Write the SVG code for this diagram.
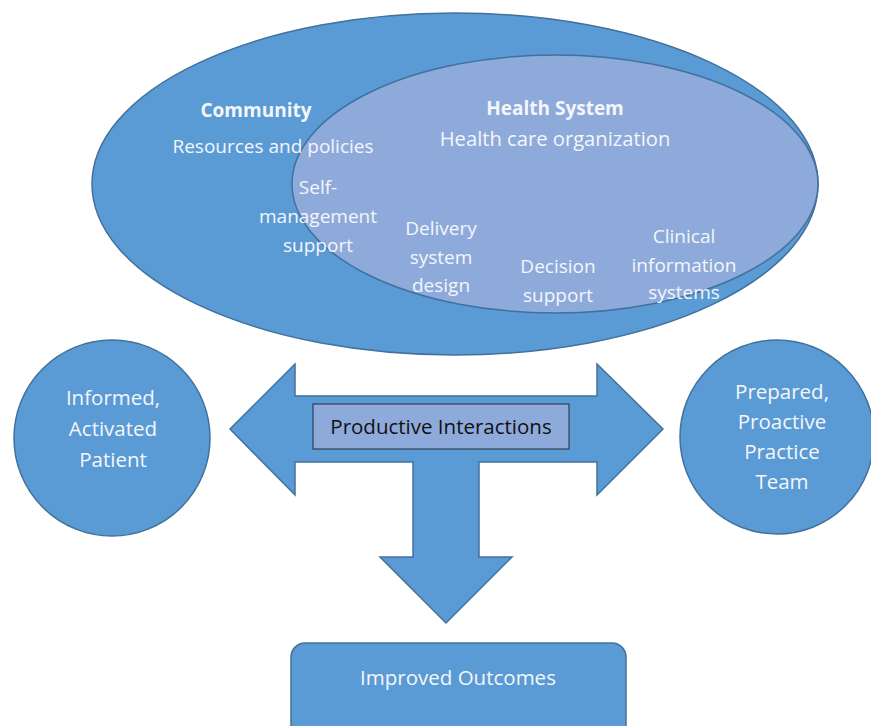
<svg xmlns="http://www.w3.org/2000/svg" width="871" height="726" viewBox="0 0 871 726">
  <style>
    .shape { fill: #5b9bd5; stroke: #41719c; stroke-width: 1.5; }
    .inner { fill: #8eaadb; stroke: #41719c; stroke-width: 1.5; }
    .lbl { font-family: "Open Sans", "Liberation Sans", Arial, sans-serif; fill: #f4f6fa; text-anchor: middle; font-size: 19px; }
    .big { font-size: 20.5px; }
    .org { font-size: 20.2px; }
    .bold { font-weight: bold; }
    .dark { fill: #111111; }
  </style>

  <!-- Community / Health System ellipses -->
  <g id="community">
    <ellipse class="shape" cx="455" cy="184" rx="363" ry="171"/>
  </g>
  <g id="health-system">
    <ellipse class="inner" cx="555" cy="184" rx="263" ry="129"/>
  </g>

  <g id="community-labels">
    <text class="lbl bold" x="256" y="117">Community</text>
    <text class="lbl" x="273" y="153">Resources and policies</text>
  </g>
  <g id="health-system-labels">
    <text class="lbl bold" x="555" y="115">Health System</text>
    <text class="lbl org" x="555" y="146">Health care organization</text>
  </g>
  <g id="self-management">
    <text class="lbl" x="318" y="194">Self-</text>
    <text class="lbl" x="318" y="223">management</text>
    <text class="lbl" x="318" y="252">support</text>
  </g>
  <g id="delivery-system-design">
    <text class="lbl" x="441" y="235">Delivery</text>
    <text class="lbl" x="441" y="264">system</text>
    <text class="lbl" x="441" y="292">design</text>
  </g>
  <g id="decision-support">
    <text class="lbl" x="558" y="273">Decision</text>
    <text class="lbl" x="558" y="302">support</text>
  </g>
  <g id="clinical-information-systems">
    <text class="lbl" x="684" y="243">Clinical</text>
    <text class="lbl" x="684" y="272">information</text>
    <text class="lbl" x="684" y="299">systems</text>
  </g>

  <!-- Connectors: combined left/right/down block arrow -->
  <g id="connectors">
    <polygon class="shape" points="230,429 295,364 295,396 597,396 597,364 663,429 597,495 597,462 479,462 479,557 512,557 446,623 380,557 413,557 413,462 295,462 295,495"/>
  </g>

  <g id="productive-interactions">
    <rect x="313" y="404" width="256" height="45" fill="#8eaadb" stroke="#2f3f55" stroke-width="1.2"/>
    <text class="lbl big dark" x="441" y="434">Productive Interactions</text>
  </g>

  <g id="patient">
    <circle class="shape" cx="112" cy="438" r="98"/>
    <text class="lbl big" x="113" y="405">Informed,</text>
    <text class="lbl big" x="113" y="436">Activated</text>
    <text class="lbl big" x="113" y="467">Patient</text>
  </g>

  <g id="practice-team">
    <circle class="shape" cx="777" cy="437" r="97"/>
    <text class="lbl big" x="782" y="399">Prepared,</text>
    <text class="lbl big" x="782" y="429">Proactive</text>
    <text class="lbl big" x="782" y="459">Practice</text>
    <text class="lbl big" x="782" y="489">Team</text>
  </g>

  <g id="improved-outcomes">
    <rect class="shape" x="291" y="643" width="335" height="100" rx="14" ry="14"/>
    <text class="lbl big" x="458" y="685">Improved Outcomes</text>
  </g>
</svg>
